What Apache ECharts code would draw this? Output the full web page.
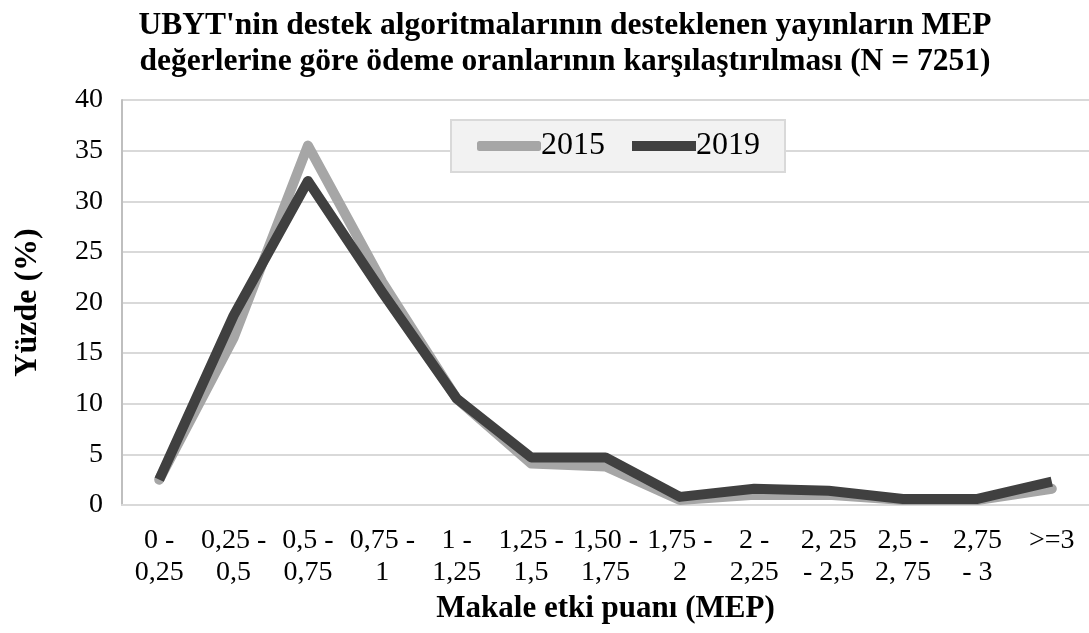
<!DOCTYPE html>
<html><head><meta charset="utf-8">
<script src="https://cdn.jsdelivr.net/npm/echarts@6/dist/echarts.min.js"></script>
<style>html,body{margin:0;padding:0;background:#fff}#c{width:1089px;height:633px}</style>
</head><body><div id="c"></div>
<script>
const categories = ['0 -\n0,25','0,25 -\n0,5','0,5 -\n0,75','0,75 -\n1','1 -\n1,25','1,25 -\n1,5','1,50 -\n1,75','1,75 -\n2','2 -\n2,25','2, 25\n- 2,5','2,5 -\n2, 75','2,75\n- 3','>=3'];
const values2015 = [2.5, 16.5, 35.5, 22.0, 10.5, 4.1, 3.8, 0.5, 1.0, 1.0, 0.5, 0.5, 1.6];
const values2019 = [2.5, 18.7, 32.0, 21.0, 10.5, 4.7, 4.7, 0.8, 1.6, 1.4, 0.6, 0.6, 2.3];
const yTicks = [0, 5, 10, 15, 20, 25, 30, 35, 40];
const font = '"Liberation Serif","Times New Roman",serif';
const chart = echarts.init(document.getElementById('c'));
chart.setOption({
  animation: false,
  title: {
    text: "UBYT'nin destek algoritmalarının desteklenen yayınların MEP\ndeğerlerine göre ödeme oranlarının karşılaştırılması (N = 7251)",
    left: 560, top: 3, textAlign: 'center',
    textStyle: {fontFamily: font, fontWeight: 'bold', fontSize: 31.5, lineHeight: 36, color: '#000'}
  },
  legend: {
    left: 451, top: 120,
    padding: [10, 25, 10, 26],
    backgroundColor: '#f2f2f2', borderColor: '#d9d9d9', borderWidth: 2,
    itemWidth: 64, itemHeight: 10, itemGap: 27,
    textStyle: {fontFamily: font, fontSize: 32, color: '#000', padding: [0,0,0,-5]},
    data: [{name: '2015', icon: 'roundRect'}, {name: '2019', icon: 'rect'}]
  },
  grid: {left: 122, right: -2, top: 100, bottom: 128},
  xAxis: {
    type: 'category', data: categories, boundaryGap: true,
    name: 'Makale etki puanı (MEP)', nameLocation: 'middle', nameGap: 86,
    nameTextStyle: {fontFamily: font, fontWeight: 'bold', fontSize: 31, color: '#000'},
    axisLine: {show: true, lineStyle: {color: '#d9d9d9', width: 2}},
    axisTick: {show: false},
    axisLabel: {interval: 0, fontFamily: font, fontSize: 28, lineHeight: 32, color: '#000', margin: 20}
  },
  yAxis: {
    type: 'value', min: 0, max: 40, interval: 5,
    name: 'Yüzde (%)', nameLocation: 'middle', nameGap: 78,
    nameTextStyle: {fontFamily: font, fontWeight: 'bold', fontSize: 32, color: '#000'},
    axisLine: {show: true, lineStyle: {color: '#bfbfbf', width: 2}},
    axisTick: {show: false},
    splitLine: {lineStyle: {color: '#d9d9d9', width: 2}},
    axisLabel: {fontFamily: font, fontSize: 28, color: '#000', margin: 19,
      formatter: v => yTicks.includes(v) ? String(v) : ''}
  },
  series: [
    {name: '2015', type: 'line', data: values2015, symbol: 'none',
     lineStyle: {color: '#a6a6a6', width: 10, cap: 'round', join: 'round'}, itemStyle: {color: '#a6a6a6'}},
    {name: '2019', type: 'line', data: values2019, symbol: 'none',
     lineStyle: {color: '#404040', width: 10, join: 'round'}, itemStyle: {color: '#404040'}}
  ]
});
</script></body></html>
